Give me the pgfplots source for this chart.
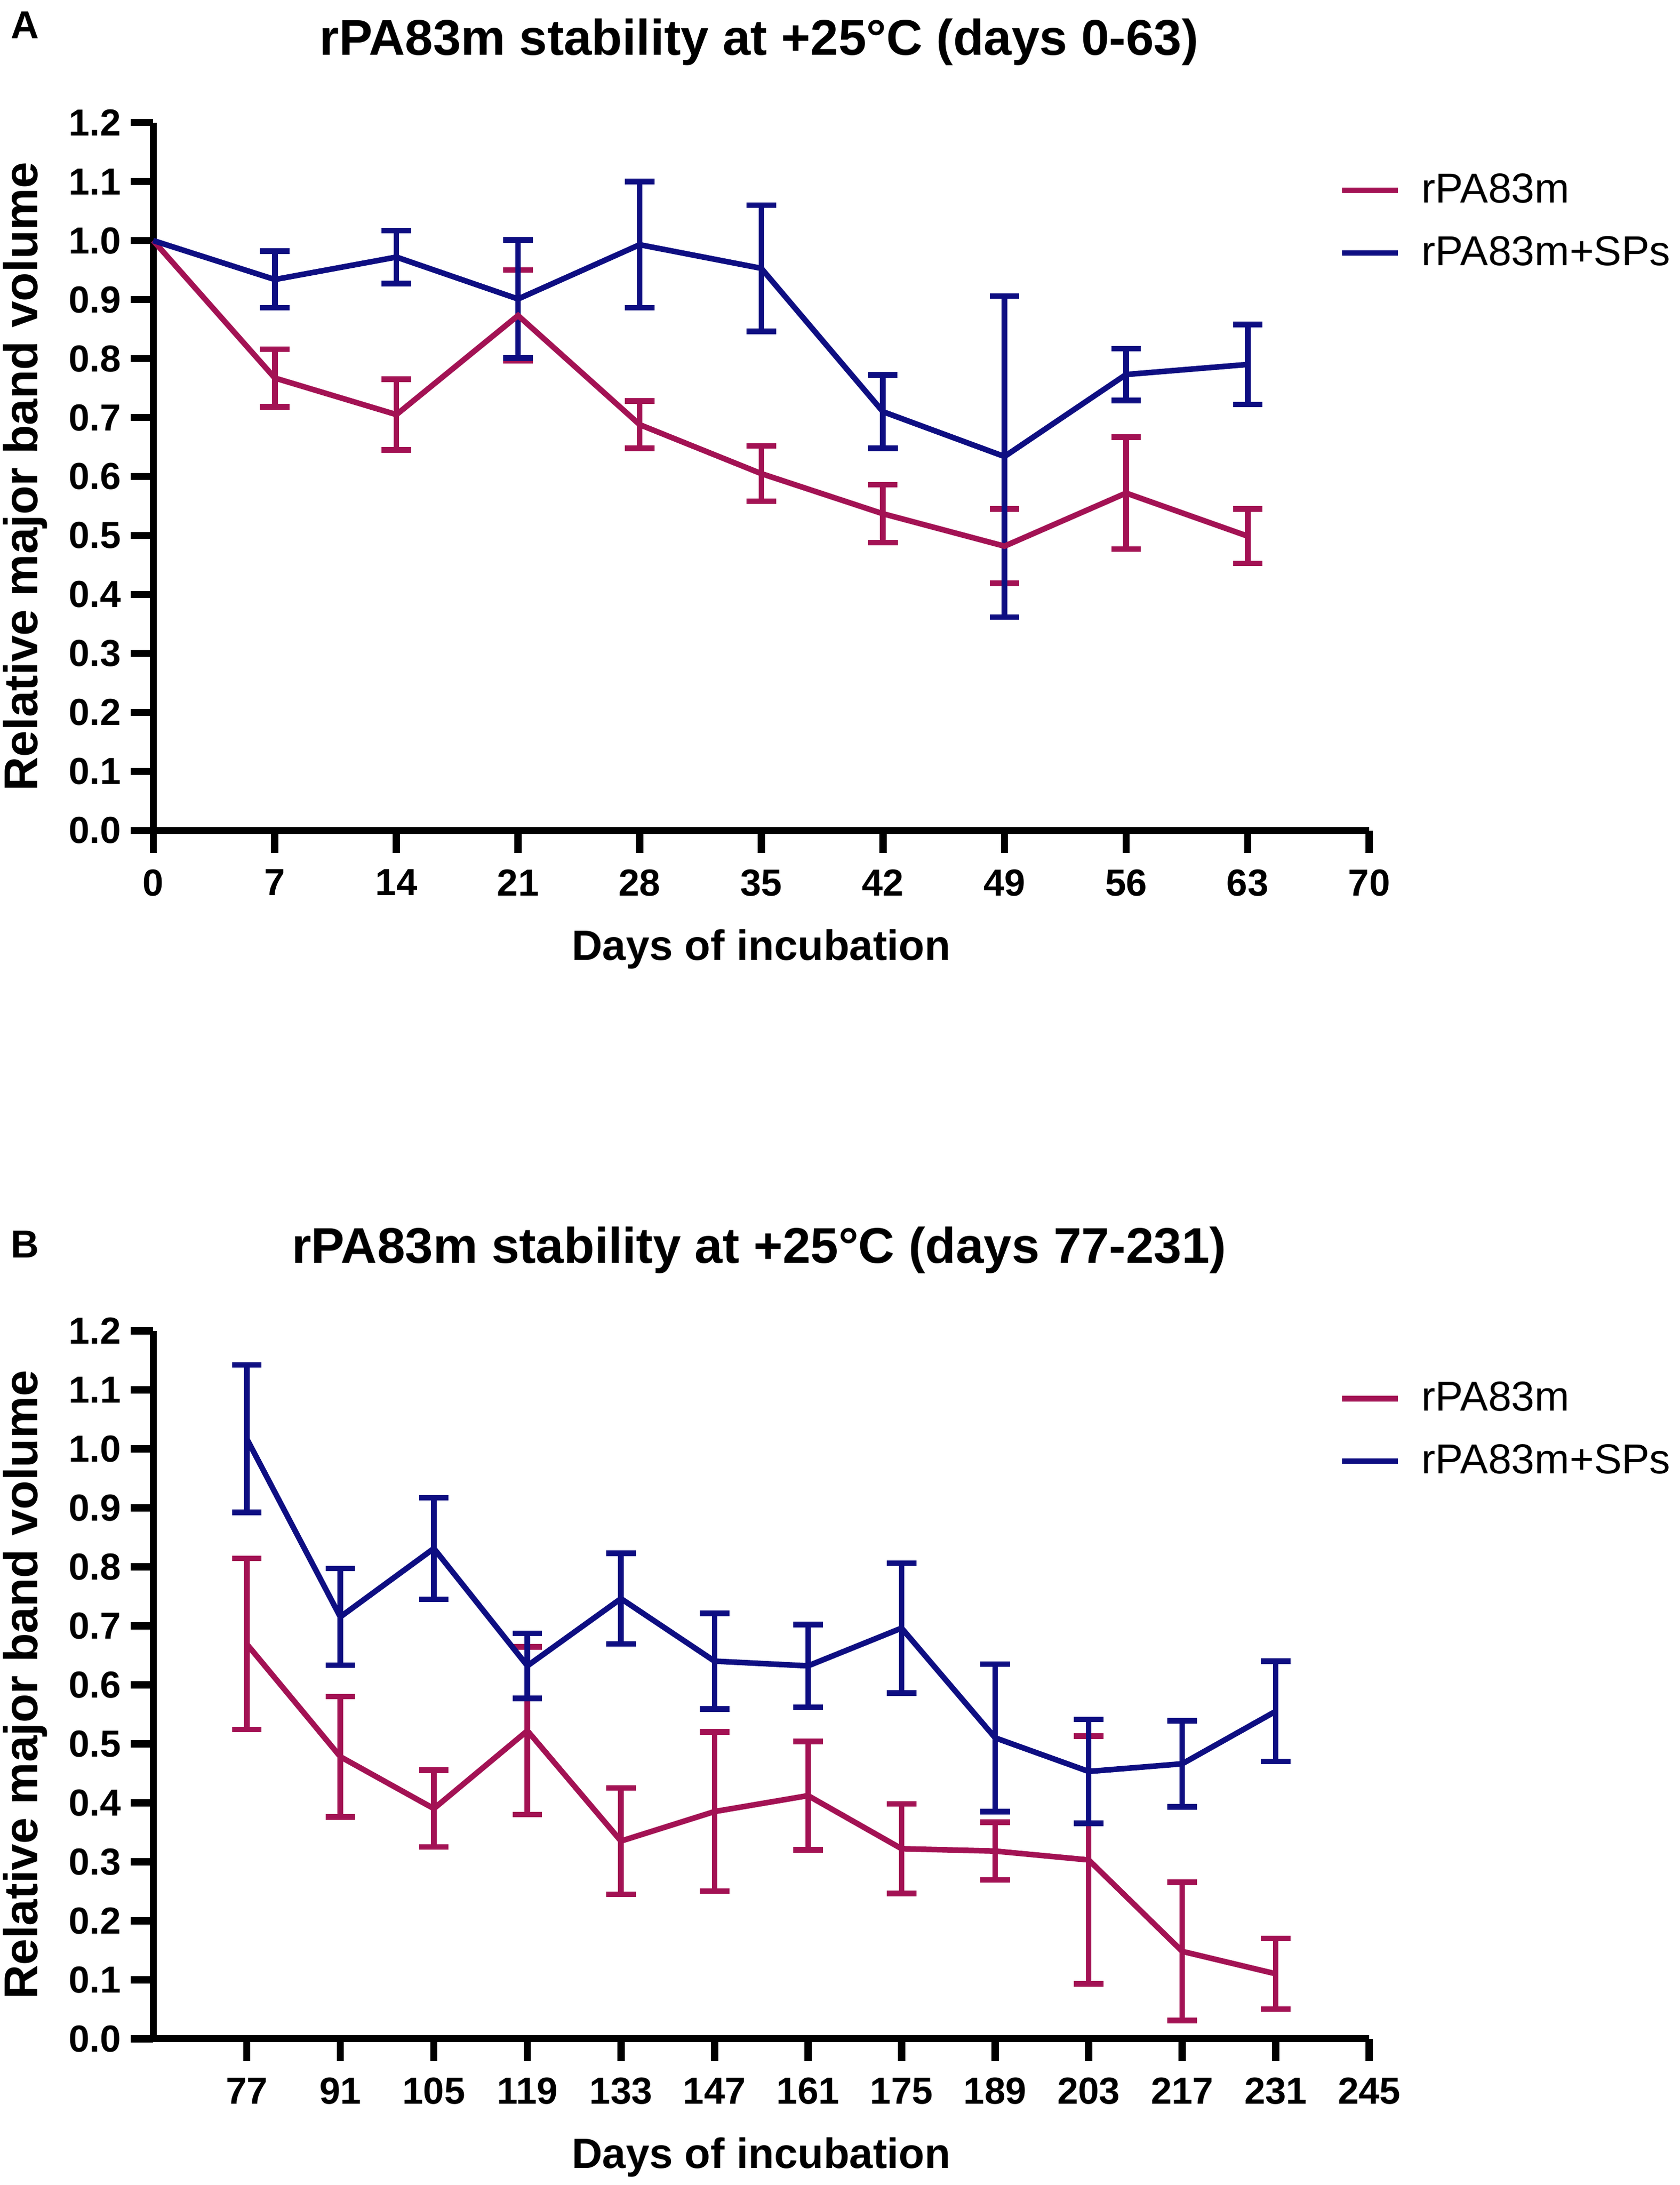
\documentclass[border=0pt]{standalone}
\usepackage{pgfplots}
\usepackage{pgfplotstable}
\pgfplotsset{compat=1.18}
\usepackage{fontspec}
\setmainfont{Liberation Sans}
\definecolor{cRed}{RGB}{163,18,84}
\definecolor{cBlue}{RGB}{14,14,130}

% Panel A
\pgfplotstableread{
x y
0 1.000
7 0.767
14 0.705
21 0.873
28 0.688
35 0.605
42 0.537
49 0.482
56 0.572
63 0.499
}\ARedLine
\pgfplotstableread{
x y e
7 0.767 0.049
14 0.705 0.060
21 0.873 0.077
28 0.688 0.040
35 0.605 0.047
42 0.537 0.049
49 0.482 0.063
56 0.572 0.095
63 0.499 0.046
}\ARedErr
\pgfplotstableread{
x y
0 1.000
7 0.934
14 0.972
21 0.901
28 0.993
35 0.953
42 0.710
49 0.634
56 0.773
63 0.790
}\ABlueLine
\pgfplotstableread{
x y e
7 0.934 0.048
14 0.972 0.045
21 0.901 0.100
28 0.993 0.107
35 0.953 0.107
42 0.710 0.062
49 0.634 0.272
56 0.773 0.044
63 0.790 0.068
}\ABlueErr

% Panel B
\pgfplotstableread{
x y e
77 0.669 0.145
91 0.478 0.102
105 0.390 0.065
119 0.522 0.142
133 0.335 0.090
147 0.385 0.135
161 0.412 0.092
175 0.322 0.076
189 0.318 0.049
203 0.303 0.210
217 0.148 0.117
231 0.110 0.060
}\BRed
\pgfplotstableread{
x y e
77 1.017 0.125
91 0.715 0.082
105 0.831 0.086
119 0.632 0.055
133 0.746 0.077
147 0.640 0.081
161 0.632 0.070
175 0.696 0.110
189 0.510 0.125
203 0.453 0.088
217 0.466 0.073
231 0.555 0.085
}\BBlue

\pgfplotsset{
  myaxis/.style={
    scale only axis, width=436.5pt, height=254pt,
    anchor=south west,
    axis x line=bottom, axis y line=left,
    axis line style={line width=2.5pt, -, black},
    tick align=outside, major tick length=8pt,
    tick style={line width=2.6pt, black},
    ymin=0, ymax=1.2,
    ytick={0,0.1,0.2,0.3,0.4,0.5,0.6,0.7,0.8,0.9,1.0,1.1,1.2},
    yticklabel style={/pgf/number format/fixed, /pgf/number format/fixed zerofill, /pgf/number format/precision=1},
    /pgf/number format/assume math mode=true,
    tick label style={font=\bfseries\fontsize{13.5}{13.5}\selectfont},
    xticklabel style={yshift=-2.5pt},
    xlabel={Days of incubation}, ylabel={Relative major band volume},
    xlabel style={font=\bfseries\fontsize{15.2}{15.2}\selectfont, at={([yshift=-42.5pt]axis description cs:0.5,0)}, anchor=center},
    ylabel style={font=\bfseries\fontsize{17}{17}\selectfont, at={([xshift=-46pt]axis description cs:0,0.5)}, anchor=center},
    legend style={draw=none, fill=none, at={(0.975,0.86)}, anchor=west,
      font=\fontsize{15}{15}\selectfont, row sep=6.5pt, inner sep=0pt, cells={anchor=west},
      /tikz/every odd column/.append style={column sep=5.5pt}},
    legend image code/.code={\draw[#1, line width=2pt] (0pt,0pt) -- (20pt,0pt);},
    legend cell align=left,
    clip=false,
  },
  errplot/.style={draw=none, mark=none, forget plot,
    error bars/.cd, y dir=both, y explicit,
    error bar style={draw=#1, line width=2pt},
    error mark options={rotate=90, draw=#1, line width=2pt, mark size=5.3pt}},
}

\begin{document}
\begin{tikzpicture}
\path[use as bounding box] (0pt,0pt) rectangle (603pt,784pt);

\begin{axis}[myaxis, at={(55pt,486pt)}, xmin=0, xmax=70,
  xtick={0,7,14,21,28,35,42,49,56,63,70}]
\addplot[errplot=cRed] table[x=x,y=y,y error=e] {\ARedErr};
\addplot[errplot=cBlue] table[x=x,y=y,y error=e] {\ABlueErr};
\addplot[cRed, line width=2pt, mark=none] table[x=x,y=y] {\ARedLine};
\addlegendentry{rPA83m}
\addplot[cBlue, line width=2pt, mark=none] table[x=x,y=y] {\ABlueLine};
\addlegendentry{rPA83m+SPs}
\end{axis}

\begin{axis}[myaxis, at={(55pt,52.5pt)}, xmin=63, xmax=245,
  xtick={77,91,105,119,133,147,161,175,189,203,217,231,245}]
\addplot[errplot=cRed] table[x=x,y=y,y error=e] {\BRed};
\addplot[errplot=cBlue] table[x=x,y=y,y error=e] {\BBlue};
\addplot[cRed, line width=2pt, mark=none] table[x=x,y=y] {\BRed};
\addlegendentry{rPA83m}
\addplot[cBlue, line width=2pt, mark=none] table[x=x,y=y] {\BBlue};
\addlegendentry{rPA83m+SPs}
\end{axis}

\node[font=\bfseries\fontsize{14}{14}\selectfont] at (9pt,775pt) {A};
\node[font=\bfseries\fontsize{18}{18}\selectfont] at (272.5pt,769pt) {rPA83m stability at +25°C (days 0-63)};
\node[font=\bfseries\fontsize{14}{14}\selectfont] at (9pt,337.5pt) {B};
\node[font=\bfseries\fontsize{18}{18}\selectfont] at (272.5pt,335.5pt) {rPA83m stability at +25°C (days 77-231)};
\end{tikzpicture}
\end{document}
